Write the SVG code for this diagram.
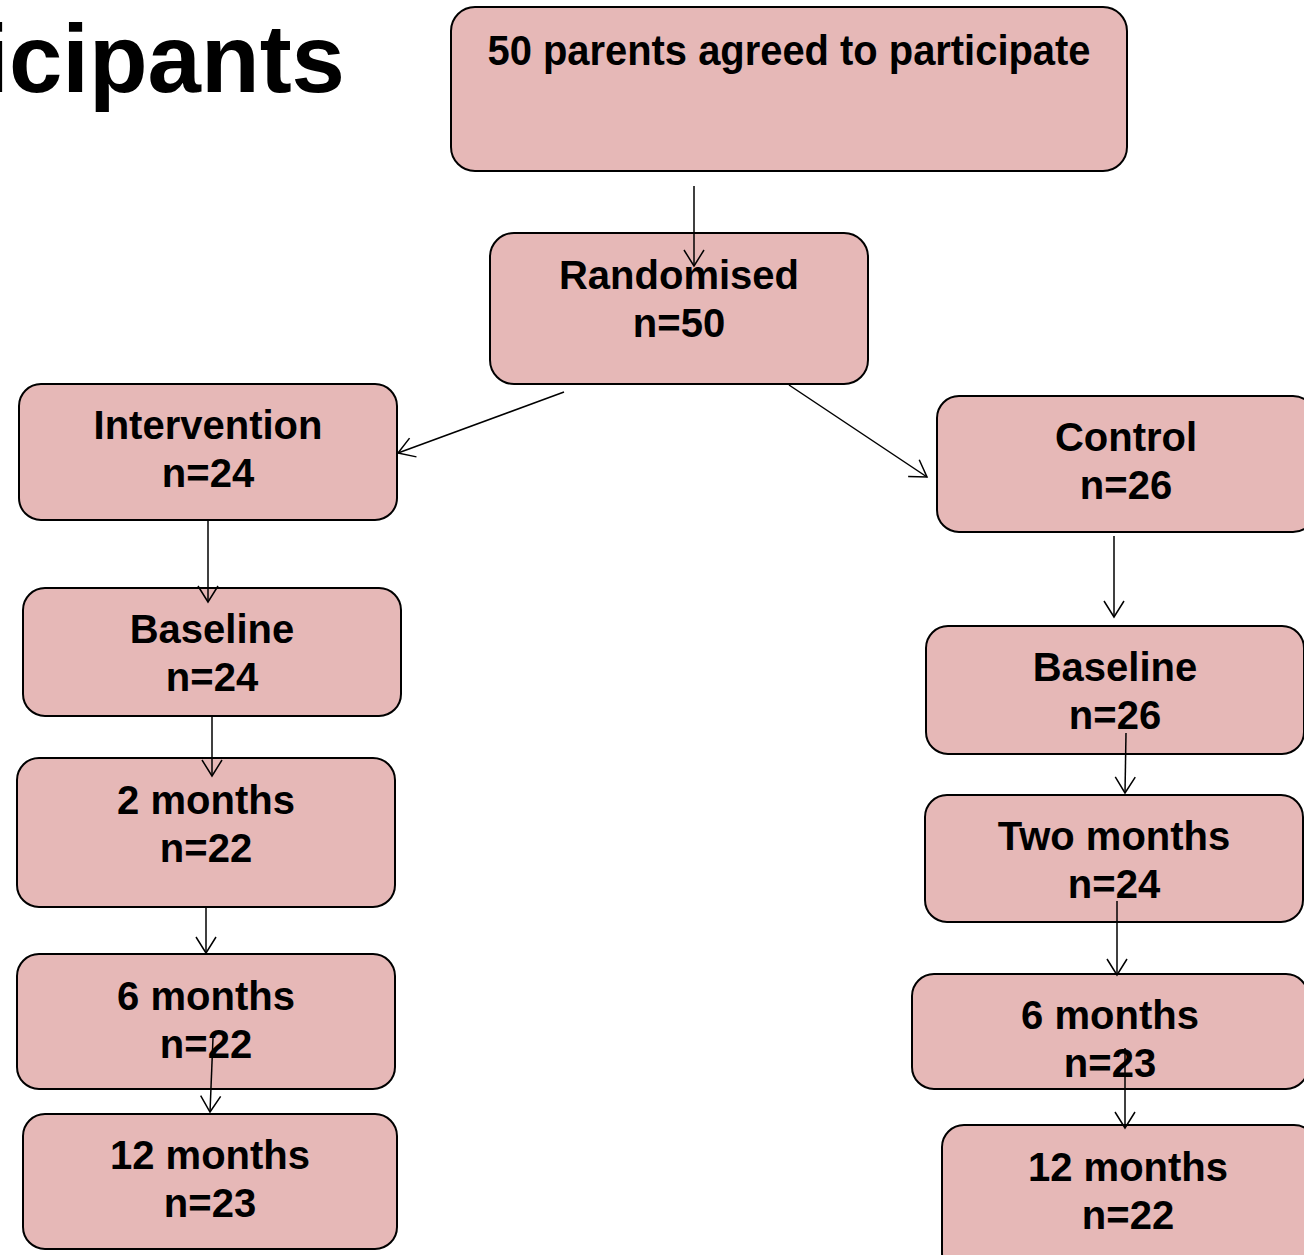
<svg xmlns="http://www.w3.org/2000/svg" width="1304" height="1255" viewBox="0 0 1304 1255">
<style>
.box{fill:#E6B8B7;stroke:#000;stroke-width:2}
.t{font-family:"Liberation Sans",Arial,sans-serif;font-weight:bold;font-size:40px;fill:#000;text-anchor:middle}
.c{fill:none;stroke:#000;stroke-width:1.5}
</style>
<defs>
<marker id="arr" markerUnits="userSpaceOnUse" markerWidth="22" markerHeight="24" refX="18" refY="11" orient="auto" overflow="visible">
<path d="M2,1 L18,11 L2,21" fill="none" stroke="#000" stroke-width="1.5"/>
</marker>
</defs>
<rect width="1304" height="1255" fill="#fff"/>
<text x="345" y="92" font-family="Liberation Sans,Arial,sans-serif" font-weight="bold" font-size="96" text-anchor="end" fill="#000">icipants</text>
<g id="n-top"><rect class="box" x="451" y="7" width="676" height="164" rx="24"/><text class="t" x="789" y="65" font-size="42" textLength="603" lengthAdjust="spacingAndGlyphs" style="font-size:42px">50 parents agreed to participate</text></g>
<g id="n-rand"><rect class="box" x="490" y="233" width="378" height="151" rx="24"/><text class="t" x="679" y="289">Randomised</text><text class="t" x="679" y="337">n=50</text></g>
<g id="n-int"><rect class="box" x="19" y="384" width="378" height="136" rx="22"/><text class="t" x="208" y="439">Intervention</text><text class="t" x="208" y="487">n=24</text></g>
<g id="n-ctl"><rect class="box" x="937" y="396" width="378" height="136" rx="22"/><text class="t" x="1126" y="451">Control</text><text class="t" x="1126" y="499">n=26</text></g>
<g id="n-baseL"><rect class="box" x="23" y="588" width="378" height="128" rx="22"/><text class="t" x="212" y="643">Baseline</text><text class="t" x="212" y="691">n=24</text></g>
<g id="n-baseR"><rect class="box" x="926" y="626" width="378" height="128" rx="22"/><text class="t" x="1115" y="681">Baseline</text><text class="t" x="1115" y="729">n=26</text></g>
<g id="n-2mL"><rect class="box" x="17" y="758" width="378" height="149" rx="22"/><text class="t" x="206" y="814">2 months</text><text class="t" x="206" y="862">n=22</text></g>
<g id="n-2mR"><rect class="box" x="925" y="795" width="378" height="127" rx="22"/><text class="t" x="1114" y="850">Two months</text><text class="t" x="1114" y="898">n=24</text></g>
<g id="n-6mL"><rect class="box" x="17" y="954" width="378" height="135" rx="22"/><text class="t" x="206" y="1010">6 months</text><text class="t" x="206" y="1058">n=22</text></g>
<g id="n-6mR"><rect class="box" x="912" y="974" width="396" height="115" rx="22"/><text class="t" x="1110" y="1029">6 months</text><text class="t" x="1110" y="1077">n=23</text></g>
<g id="n-12mL"><rect class="box" x="23" y="1114" width="374" height="135" rx="22"/><text class="t" x="210" y="1169">12 months</text><text class="t" x="210" y="1217">n=23</text></g>
<g id="n-12mR"><rect class="box" x="942" y="1125" width="374" height="150" rx="22"/><text class="t" x="1128" y="1181">12 months</text><text class="t" x="1128" y="1229">n=22</text></g>
<g id="connectors">
<path class="c" marker-end="url(#arr)" d="M694,186 L694,266"/>
<path class="c" marker-end="url(#arr)" d="M564,392 L398,453"/>
<path class="c" marker-end="url(#arr)" d="M789,385 L927,477"/>
<path class="c" marker-end="url(#arr)" d="M208,520 L208,602"/>
<path class="c" marker-end="url(#arr)" d="M1114,536 L1114,617"/>
<path class="c" marker-end="url(#arr)" d="M212,716 L212,776"/>
<path class="c" marker-end="url(#arr)" d="M1126,733 L1125,793"/>
<path class="c" marker-end="url(#arr)" d="M1117,901 L1117,975"/>
<path class="c" marker-end="url(#arr)" d="M1125,1048 L1125,1128"/>
<path class="c" marker-end="url(#arr)" d="M206,907 L206,953"/>
<path class="c" marker-end="url(#arr)" d="M213,1038 L210,1112"/>
</g>
</svg>
